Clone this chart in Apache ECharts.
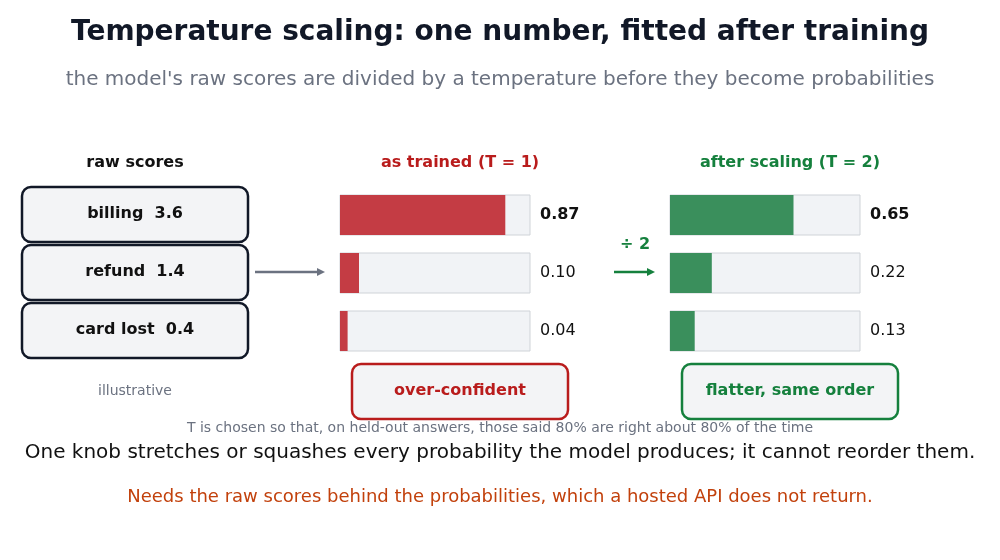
<!DOCTYPE html>
<html lang="en">
<head>
<meta charset="UTF-8">
<title>temperature scaling</title>
<script src="https://cdn.jsdelivr.net/npm/echarts@6/dist/echarts.min.js"></script>
</head>
<body style="margin:0">
<div id="main" style="width:1000px;height:560px;"></div>
<script>
    // data
    let labels = ['billing', 'refund', 'card lost'];
    let rawScores = [3.6, 1.4, 0.4];
    let probsTrained = [0.87, 0.10, 0.04];
    let probsScaled = [0.65, 0.22, 0.13];

    const FONT = 'DejaVu Sans';
    const RED = '#b91c1c';
    const GREEN = '#15803d';
    let chart = echarts.init(document.getElementById('main'));

    function barSeries(values, color, gi) {
        return {
            type: 'bar',
            xAxisIndex: gi, yAxisIndex: gi,
            barWidth: 40,
            showBackground: true,
            backgroundStyle: { color: '#f1f3f6', borderColor: '#cfd3d8', borderWidth: 1 },
            itemStyle: { color: color },
            data: values.map((v, i) => ({
                value: v,
                label: { fontWeight: i === 0 ? 'bold' : 'normal' }
            })),
            label: {
                show: true, position: 'insideRight', offset: [0, 0],
                formatter: p => p.value.toFixed(2),
                color: '#111', fontSize: 16, fontFamily: FONT
            },
            silent: true
        };
    }

    // value labels sit right of the track, so place them via a second transparent series
    function labelSeries(values, gi) {
        return {
            type: 'bar', xAxisIndex: gi, yAxisIndex: gi, barGap: '-100%', barWidth: 40,
            itemStyle: { color: 'transparent' },
            data: values.map((v, i) => ({ value: 1, label: { fontWeight: i === 0 ? 'bold' : 'normal', formatter: v.toFixed(2) } })),
            label: { show: true, position: 'right', distance: 10, color: '#111', fontSize: 16, fontFamily: FONT },
            silent: true, z: 1
        };
    }

    function grid(left) {
        return { left: left, top: 186, width: 190, height: 174 };
    }
    function axes(gi) {
        return {
            x: { type: 'value', gridIndex: gi, min: 0, max: 1, show: false },
            y: { type: 'category', gridIndex: gi, data: labels, inverse: true, show: false }
        };
    }
    let a0 = axes(0), a1 = axes(1);

    let graphics = [];
    function text(x, y, s, size, color, weight) {
        graphics.push({ type: 'text', x: x, y: y, style: { text: s, fontSize: size, fill: color, fontWeight: weight || 'normal', fontFamily: FONT, align: 'center', verticalAlign: 'middle' } });
    }
    function box(x, y, w, h, stroke) {
        graphics.push({ type: 'rect', shape: { x: x, y: y, width: w, height: h, r: 9 }, style: { fill: '#f3f4f6', stroke: stroke, lineWidth: 2.5 } });
    }
    function arrow(x1, x2, y, color) {
        graphics.push({ type: 'line', shape: { x1: x1, y1: y, x2: x2 - 6, y2: y }, style: { stroke: color, lineWidth: 2.5 } });
        graphics.push({ type: 'polygon', shape: { points: [[x2, y], [x2 - 8, y - 4], [x2 - 8, y + 4]] }, style: { fill: color } });
    }

    text(500, 33, 'Temperature scaling: one number, fitted after training', 28, '#111827', 'bold');
    text(500, 80, "the model's raw scores are divided by a temperature before they become probabilities", 20, '#6b7280');

    text(135, 163, 'raw scores', 16, '#111', 'bold');
    labels.forEach((l, i) => {
        box(22, 187 + i * 58, 226, 55, '#111827');
        text(135, 214 + i * 58, l + '  ' + rawScores[i].toFixed(1), 16, '#111', 'bold');
    });
    text(135, 391, 'illustrative', 14, '#6b7280');
    arrow(255, 325, 272, '#6b7280');

    text(460, 163, 'as trained (T = 1)', 16, RED, 'bold');
    box(352, 364, 216, 55, RED);
    text(460, 391, 'over-confident', 16, RED, 'bold');

    text(635, 245, '÷ 2', 16, GREEN, 'bold');
    arrow(614, 655, 272, GREEN);

    text(790, 163, 'after scaling (T = 2)', 16, GREEN, 'bold');
    box(682, 364, 216, 55, GREEN);
    text(790, 391, 'flatter, same order', 16, GREEN, 'bold');

    text(500, 428, 'T is chosen so that, on held-out answers, those said 80% are right about 80% of the time', 14, '#6b7280');
    text(500, 453, 'One knob stretches or squashes every probability the model produces; it cannot reorder them.', 20, '#111');
    text(500, 497, 'Needs the raw scores behind the probabilities, which a hosted API does not return.', 18, '#c2410c');

    let option = {
        animation: false,
        grid: [grid(340), grid(670)],
        xAxis: [a0.x, a1.x],
        yAxis: [a0.y, a1.y],
        series: [
            labelSeries(probsTrained, 0),
            Object.assign(barSeries(probsTrained, '#c43c44', 0), { label: { show: false } }),
            labelSeries(probsScaled, 1),
            Object.assign(barSeries(probsScaled, '#3a8f5c', 1), { label: { show: false } })
        ],
        graphic: graphics
    };
    chart.setOption(option);
</script>
</body>
</html>
